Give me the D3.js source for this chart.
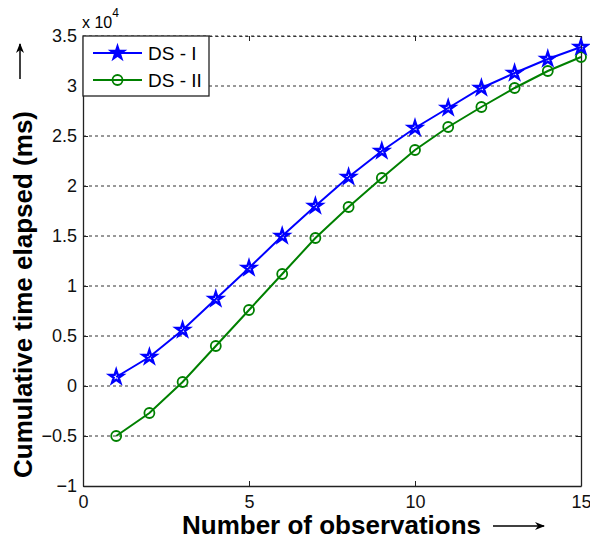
<!DOCTYPE html>
<html>
<head>
<meta charset="utf-8">
<script src="https://cdn.jsdelivr.net/npm/d3@7"></script>
<style>
  body { margin: 0; background: #fff; }
  svg text { font-family: "Liberation Sans", Arial, sans-serif; }
</style>
</head>
<body>
<svg id="chart" width="590" height="541"></svg>
<script>
// observations on x, cumulative time (x 10^4 ms) on y
var observations = [1, 2, 3, 4, 5, 6, 7, 8, 9, 10, 11, 12, 13, 14, 15];
var dsOne = [0.09, 0.29, 0.56, 0.87, 1.18, 1.5, 1.8, 2.09, 2.35, 2.58, 2.78, 2.98, 3.13, 3.27, 3.39];
var dsTwo = [-0.5, -0.27, 0.04, 0.4, 0.76, 1.12, 1.48, 1.79, 2.08, 2.36, 2.59, 2.79, 2.98, 3.15, 3.29];
var xTicks = [0, 5, 10, 15];
var yTicks = [-1, -0.5, 0, 0.5, 1, 1.5, 2, 2.5, 3, 3.5];
var seriesNames = ['DS - I', 'DS - II'];
var seriesColors = ['#0000ff', '#008000'];

var margin = {top: 36, right: 9, bottom: 55, left: 83};
var width = 590 - margin.left - margin.right,
    height = 541 - margin.top - margin.bottom;

var svg = d3.select('#chart');
var g = svg.append('g').attr('transform', 'translate(' + margin.left + ',' + margin.top + ')');

var x = d3.scaleLinear().domain([0, 15]).range([0, width]);
var y = d3.scaleLinear().domain([-1, 3.5]).range([height, 0]);

// dashed grid
g.selectAll('.grid')
  .data(yTicks.filter(function (d) { return d > -1; }))
  .enter().append('line')
  .attr('x1', 0).attr('x2', width)
  .attr('y1', function (d) { return y(d); })
  .attr('y2', function (d) { return y(d); })
  .attr('stroke', '#333').attr('stroke-width', 1)
  .attr('stroke-dasharray', '3,3');

// axes with inward ticks
var bottomAxis = g.append('g').attr('transform', 'translate(0,' + height + ')')
  .call(d3.axisBottom(x).tickValues(xTicks).tickSizeInner(-5).tickSizeOuter(0).tickPadding(9));
g.append('g')
  .call(d3.axisLeft(y).tickValues(yTicks).tickSizeInner(-5).tickSizeOuter(0).tickPadding(6)
    .tickFormat(function (d) { return d3.format('')(d); }));
var topAxis = g.append('g').call(d3.axisTop(x).tickValues(xTicks).tickSizeInner(-5).tickSizeOuter(0).tickFormat(''));
g.append('g').attr('transform', 'translate(' + width + ',0)')
  .call(d3.axisRight(y).tickValues(yTicks).tickSizeInner(-5).tickSizeOuter(0).tickFormat(''));

svg.selectAll('.domain').attr('stroke', '#222').attr('stroke-width', 1.3);
svg.selectAll('.tick line').attr('stroke', '#222');
svg.selectAll('.tick text').attr('font-size', 18).attr('fill', '#111')
  .style('font-family', '"Liberation Sans", Arial, sans-serif');
topAxis.select('.domain').attr('stroke-dasharray', '3,3').attr('stroke', '#333').attr('stroke-width', 1);
// last x label sits against the page edge
bottomAxis.selectAll('.tick text').filter(function (d) { return d === 15; })
  .attr('text-anchor', 'end').attr('dx', 10);

// series
var line = d3.line()
  .x(function (d) { return x(d[0]); })
  .y(function (d) { return y(d[1]); });

var star = d3.symbol().type(d3.symbolStar).size(55);

[dsTwo, dsOne].forEach(function (vals, k) {
  var idx = 1 - k;
  var pts = observations.map(function (o, i) { return [o, vals[i]]; });
  g.append('path').datum(pts).attr('d', line)
    .attr('fill', 'none').attr('stroke', seriesColors[idx]).attr('stroke-width', 2);
  if (idx === 0) {
    g.selectAll('.star').data(pts).enter().append('path')
      .attr('d', star)
      .attr('transform', function (d) { return 'translate(' + x(d[0]) + ',' + y(d[1]) + ')'; })
      .attr('fill', 'none').attr('stroke', seriesColors[0]).attr('stroke-width', 2.4);
  } else {
    g.selectAll('.circ').data(pts).enter().append('circle')
      .attr('cx', function (d) { return x(d[0]); })
      .attr('cy', function (d) { return y(d[1]); })
      .attr('r', 5)
      .attr('fill', 'none').attr('stroke', seriesColors[1]).attr('stroke-width', 1.8);
  }
});

// legend
var lg = g.append('g');
lg.append('rect').attr('x', 0).attr('y', 0).attr('width', 126).attr('height', 60)
  .attr('fill', '#fff').attr('stroke', '#222').attr('stroke-width', 1.3);
seriesNames.forEach(function (name, i) {
  var ly = 17 + i * 27;
  lg.append('line').attr('x1', 10).attr('x2', 59).attr('y1', ly).attr('y2', ly)
    .attr('stroke', seriesColors[i]).attr('stroke-width', 2);
  if (i === 0) {
    lg.append('path').attr('d', star).attr('transform', 'translate(34.5,' + ly + ')')
      .attr('fill', seriesColors[0]).attr('stroke', seriesColors[0]).attr('stroke-width', 2);
  } else {
    lg.append('circle').attr('cx', 34.5).attr('cy', ly).attr('r', 5)
      .attr('fill', 'none').attr('stroke', seriesColors[1]).attr('stroke-width', 1.8);
  }
  lg.append('text').attr('x', 65).attr('y', ly + 7).attr('font-size', 19).text(name);
});

// exponent label
var ex = svg.append('text').attr('x', 82).attr('y', 28).attr('font-size', 16);
ex.append('tspan').text('x 10');
ex.append('tspan').attr('dy', -11).attr('font-size', 12).text('4');

// axis titles
svg.append('text').attr('x', 182).attr('y', 534).attr('font-size', 26).attr('font-weight', 'bold')
  .text('Number of observations');
svg.append('text').attr('transform', 'translate(32,478) rotate(-90)')
  .attr('font-size', 26).attr('font-weight', 'bold')
  .text('Cumulative time elapsed (ms)');

// arrows
svg.append('defs').append('marker').attr('id', 'ah')
  .attr('viewBox', '0 0 10 10').attr('refX', 9).attr('refY', 5)
  .attr('markerUnits', 'userSpaceOnUse').attr('markerWidth', 16).attr('markerHeight', 10)
  .attr('orient', 'auto')
  .append('path').attr('d', 'M0,1 L10,5 L0,9 L3,5 Z').attr('fill', '#000');
svg.append('line').attr('x1', 493).attr('x2', 544).attr('y1', 526).attr('y2', 526)
  .attr('stroke', '#000').attr('stroke-width', 1.5).attr('marker-end', 'url(#ah)');
svg.append('line').attr('x1', 20).attr('x2', 20).attr('y1', 79).attr('y2', 44)
  .attr('stroke', '#000').attr('stroke-width', 1.5).attr('marker-end', 'url(#ah)');
</script>
</body>
</html>
